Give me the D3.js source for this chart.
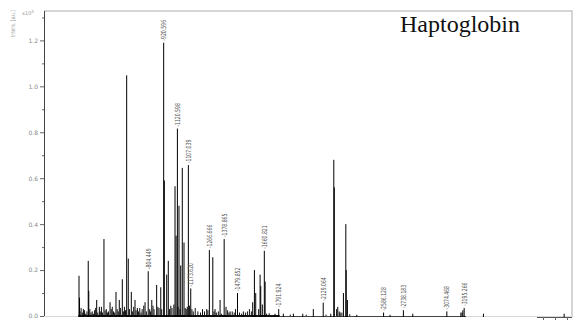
<!DOCTYPE html>
<html>
<head>
<meta charset="utf-8">
<script src="https://cdn.jsdelivr.net/npm/d3@7"></script>
<style>
  html, body { margin: 0; padding: 0; background: #fff; }
  svg { display: block; }
</style>
</head>
<body>
<svg id="chart"></svg>
<script>
// spectrum peaks: m/z and intensity (x10^4 a.u.)
const peakMz = [280, 284, 313, 350, 354, 414, 434, 469, 515, 560, 585, 608, 641, 653, 676, 704, 722, 780,
  804, 831, 868, 899, 921, 926, 944, 956, 1007, 1015, 1025, 1037, 1050, 1062, 1075, 1108, 1126, 1247,
  1267, 1293, 1310, 1348, 1379, 1393, 1424, 1480, 1524, 1595, 1608, 1618, 1651, 1656, 1668, 1683, 1689,
  1764, 1792, 1827, 1903, 1974, 2054, 2129, 2186, 2209, 2213, 2239, 2257, 2282, 2300, 2303, 2312, 2383,
  2586, 2635, 2736, 2807, 3065, 3171, 3186, 3196, 3342, 3953];
const peakInt = [0.175, 0.08, 0.03, 0.24, 0.11, 0.07, 0.04, 0.335, 0.06, 0.105, 0.07, 0.16, 1.048, 0.25, 0.105, 0.07, 0.035, 0.06,
  0.195, 0.07, 0.135, 0.125, 1.19, 0.59, 0.18, 0.24, 0.565, 0.35, 0.816, 0.48, 0.22, 0.645, 0.32, 0.657, 0.12, 0.03,
  0.287, 0.256, 0.03, 0.07, 0.335, 0.04, 0.02, 0.10, 0.02, 0.06, 0.2, 0.10, 0.18, 0.13, 0.05, 0.284, 0.15,
  0.01, 0.03, 0.01, 0.01, 0.01, 0.03, 0.058, 0.01, 0.68, 0.56, 0.04, 0.015, 0.10, 0.40, 0.20, 0.07, 0.005,
  0.015, 0.005, 0.025, 0.01, 0.02, 0.015, 0.025, 0.035, 0.01, 0.01];

// small background peaks
const noiseMz = [288, 296, 305, 322, 331, 340, 362, 371, 380, 389, 398, 406, 422, 441, 450, 458, 478, 487, 495, 503,
  524, 532, 541, 550, 569, 577, 595, 616, 624, 632, 662, 686, 694, 712, 731, 740, 750, 758, 770, 790, 815, 822,
  840, 848, 877, 886, 906, 965, 975, 984, 998, 1030, 1045, 1084, 1092, 1100, 1117, 1135, 1145, 1160, 1180, 1200,
  1215, 1230, 1256, 1302, 1320, 1335, 1360, 1405, 1415, 1440, 1455, 1465, 1495, 1510, 1540, 1555, 1570, 1585,
  1640, 1700, 1720, 1880, 2000, 2150, 2230, 2250, 2270, 2330, 3180];
const noiseInt = [0.02, 0.035, 0.015, 0.025, 0.01, 0.02, 0.03, 0.015, 0.02, 0.01, 0.025, 0.035, 0.015, 0.02, 0.04, 0.015,
  0.025, 0.03, 0.015, 0.02, 0.03, 0.04, 0.02, 0.015, 0.03, 0.02, 0.035, 0.02, 0.04, 0.025, 0.03, 0.02, 0.04, 0.025,
  0.02, 0.035, 0.015, 0.03, 0.045, 0.02, 0.03, 0.02, 0.045, 0.03, 0.04, 0.035, 0.03, 0.03, 0.045, 0.035, 0.05,
  0.04, 0.03, 0.035, 0.03, 0.04, 0.045, 0.03, 0.02, 0.035, 0.02, 0.015, 0.03, 0.02, 0.025, 0.02, 0.015, 0.02, 0.01,
  0.025, 0.015, 0.02, 0.015, 0.03, 0.015, 0.01, 0.015, 0.02, 0.03, 0.02, 0.03, 0.01, 0.012, 0.006, 0.006,
  0.006, 0.03, 0.02, 0.015, 0.008, 0.015];

// annotated peaks
const labelMz = [804, 921, 1025, 1108, 1126, 1267, 1379, 1480, 1683, 1792, 2129, 2586, 2736, 3065, 3196];
const labelText = ['804.449', '920.596', '1120.598', '1107.039', '1173.620', '1266.666', '1378.865', '1479.852',
  '1660.821', '1791.924', '2129.064', '2586.128', '2738.183', '3074.468', '3195.266'];

const yTicks = [0, 0.2, 0.4, 0.6, 0.8, 1.0, 1.2];
const title = 'Haptoglobin';

const width = 573, height = 328;
const margin = { top: 11, right: 0, bottom: 12, left: 44 };

const svg = d3.select('#chart')
  .attr('width', width)
  .attr('height', height)
  .attr('viewBox', [0, 0, width, height]);

const x = d3.scaleLinear([15, 4020], [margin.left, width - margin.right]);
const y = d3.scaleLinear([0, 1.328], [height - margin.bottom, margin.top]);

// frame (top + right), light gray
svg.append('path')
  .attr('d', `M${margin.left},${margin.top}H${width - 1}V${y(0)}`)
  .attr('fill', 'none')
  .attr('stroke', '#c8c8c8')
  .attr('stroke-width', 1.5);

// baseline
svg.append('line')
  .attr('x1', margin.left).attr('x2', width)
  .attr('y1', y(0) + 0.5).attr('y2', y(0) + 0.5)
  .attr('stroke', '#d8d8d8');
svg.append('line')
  .attr('x1', x(275)).attr('x2', x(1800))
  .attr('y1', y(0)).attr('y2', y(0))
  .attr('stroke', '#111')
  .attr('stroke-width', 2);
svg.append('line')
  .attr('x1', x(1800)).attr('x2', x(3210))
  .attr('y1', y(0) + 0.5).attr('y2', y(0) + 0.5)
  .attr('stroke', '#444');

// y axis
const yAxis = d3.axisLeft(y)
  .tickValues(d3.range(0, 1.301, 0.1))
  .tickSize(2)
  .tickFormat((d) => (yTicks.some((t) => Math.abs(t - d) < 1e-6) ? d.toFixed(1) : ''));

svg.append('g')
  .attr('transform', `translate(${margin.left},0)`)
  .call(yAxis)
  .call((g) => g.select('.domain').attr('d', `M0.5,${margin.top}V${y(0)}`).attr('stroke', '#444'))
  .call((g) => g.selectAll('.tick line').attr('stroke', '#666')
    .attr('x2', (d) => (yTicks.some((t) => Math.abs(t - d) < 1e-6) ? -4 : -2)))
  .call((g) => g.selectAll('.tick text')
    .attr('x', -6)
    .attr('fill', '#888')
    .attr('font-family', 'DejaVu Sans, sans-serif')
    .attr('font-size', 6));

svg.append('text')
  .attr('x', 22).attr('y', 15)
  .attr('fill', '#999')
  .attr('font-family', 'DejaVu Sans, sans-serif')
  .attr('font-size', 5)
  .text('x10')
  .append('tspan')
  .attr('dy', -2)
  .attr('font-size', 4)
  .text('4');

svg.append('text')
  .attr('transform', 'translate(15,37) rotate(-90)')
  .attr('fill', '#999')
  .attr('font-family', 'DejaVu Sans, sans-serif')
  .attr('font-size', 6)
  .attr('textLength', 27)
  .attr('lengthAdjust', 'spacingAndGlyphs')
  .text('Intens. [a.u.]');

// noise peaks
svg.append('g')
  .selectAll('line')
  .data(noiseMz)
  .join('line')
  .attr('x1', (d) => x(d)).attr('x2', (d) => x(d))
  .attr('y1', y(0))
  .attr('y2', (d, i) => y(noiseInt[i]))
  .attr('stroke', '#111')
  .attr('stroke-width', 1);

// main peaks
svg.append('g')
  .selectAll('line')
  .data(peakMz)
  .join('line')
  .attr('x1', (d) => x(d)).attr('x2', (d) => x(d))
  .attr('y1', y(0) + 1)
  .attr('y2', (d, i) => y(peakInt[i]))
  .attr('stroke', '#000')
  .attr('stroke-width', 1);

// peak labels
svg.append('g')
  .selectAll('text')
  .data(labelMz)
  .join('text')
  .attr('transform', (d) => {
    const v = peakInt[peakMz.indexOf(d)];
    return `translate(${x(d) + 2.5},${y(v) - 2}) rotate(-90)`;
  })
  .attr('fill', '#555')
  .attr('font-family', 'Liberation Sans Narrow, DejaVu Sans Condensed, sans-serif')
  .attr('font-size', 7)
  .attr('textLength', (d, i) => (labelText[i].length + 1) * 2.6)
  .attr('lengthAdjust', 'spacingAndGlyphs')
  .text((d, i) => '-' + labelText[i]);

// small x axis stub at lower right
const xs = d3.scaleLinear([0, 2], [543, 567]);
svg.append('g')
  .attr('transform', `translate(0,${y(0) + 1})`)
  .call(d3.axisBottom(xs).ticks(2).tickSize(3).tickFormat(''))
  .call((g) => g.select('.domain').attr('d', 'M537,0.5H572').attr('stroke', '#555'))
  .call((g) => g.selectAll('.tick line').attr('stroke', '#666'));

// title
svg.append('text')
  .attr('x', 400).attr('y', 32)
  .attr('fill', '#111')
  .attr('font-family', 'Liberation Serif, Times New Roman, serif')
  .attr('font-size', 24)
  .text(title);
</script>
</body>
</html>
